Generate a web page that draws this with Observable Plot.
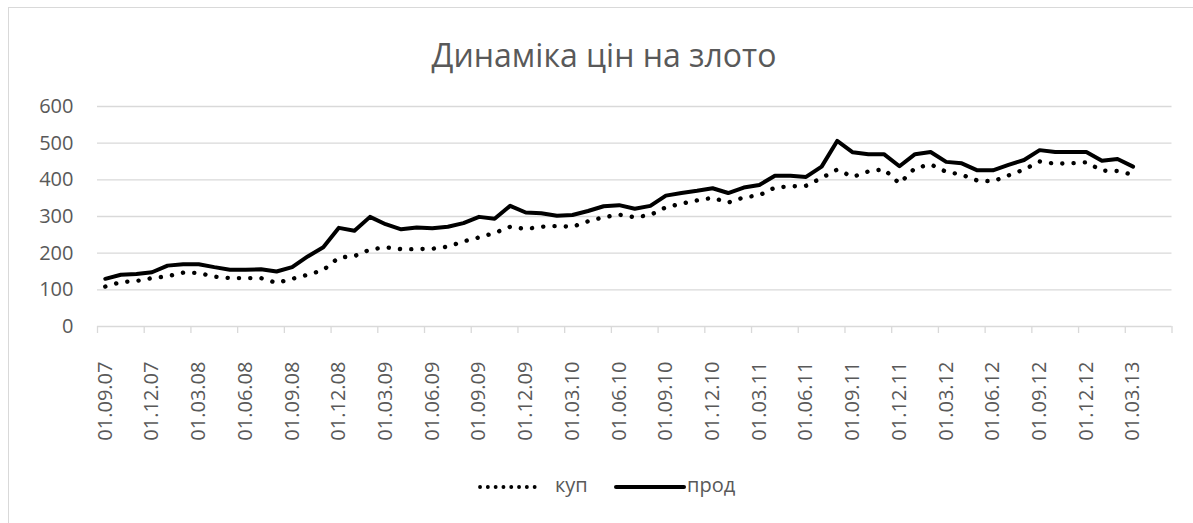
<!DOCTYPE html>
<html>
<head>
<meta charset="utf-8">
<script src="https://cdn.jsdelivr.net/npm/d3@7"></script>
<script src="https://cdn.jsdelivr.net/npm/@observablehq/plot@0.6"></script>
<style>
  html, body { margin: 0; padding: 0; background: #fff; }
  #wrap { position: relative; width: 1193px; height: 523px; overflow: hidden; font-family: "Open Sans", sans-serif; color: #595959; }
  #frame { position: absolute; left: 8px; top: 7px; width: 1200px; height: 530px; border: 1.3px solid #d9d9d9; box-sizing: border-box; }
  #title { position: absolute; left: 8px; top: 33px; width: 1192px; text-align: center; font-size: 32px; line-height: 44px; color: #595959; }
  #chart { position: absolute; left: 0; top: 88px; }
  .lg { position: absolute; font-size: 20px; line-height: 26px; color: #595959; }
  .lgs { position: absolute; }
</style>
</head>
<body>
<div id="wrap">
  <div id="frame"></div>
  <div id="title">Динаміка цін на злото</div>
  <div id="chart"></div>
  <svg class="lgs" style="left:474px;top:479px" width="74" height="16"><line x1="6" y1="8" x2="68" y2="8" stroke="#000" stroke-width="3.8" stroke-linecap="round" stroke-dasharray="0.1 7.7"/></svg>
  <div class="lg" style="left:555px;top:472px">куп</div>
  <svg class="lgs" style="left:612px;top:479px" width="76" height="16"><line x1="4" y1="8" x2="72" y2="8" stroke="#000" stroke-width="4" stroke-linecap="round"/></svg>
  <div class="lg" style="left:687px;top:472px">прод</div>
</div>
<script>
const months = [
  "01.09.07","01.10.07","01.11.07","01.12.07",
  "01.01.08","01.02.08","01.03.08","01.04.08","01.05.08","01.06.08","01.07.08","01.08.08","01.09.08","01.10.08","01.11.08","01.12.08",
  "01.01.09","01.02.09","01.03.09","01.04.09","01.05.09","01.06.09","01.07.09","01.08.09","01.09.09","01.10.09","01.11.09","01.12.09",
  "01.01.10","01.02.10","01.03.10","01.04.10","01.05.10","01.06.10","01.07.10","01.08.10","01.09.10","01.10.10","01.11.10","01.12.10",
  "01.01.11","01.02.11","01.03.11","01.04.11","01.05.11","01.06.11","01.07.11","01.08.11","01.09.11","01.10.11","01.11.11","01.12.11",
  "01.01.12","01.02.12","01.03.12","01.04.12","01.05.12","01.06.12","01.07.12","01.08.12","01.09.12","01.10.12","01.11.12","01.12.12",
  "01.01.13","01.02.13","01.03.13"
];
const kup = [109,121,124,132,137,147,146,136,132,132,
             132,119,130,141,154,188,192,210,216,211,
             211,212,218,232,243,255,272,266,272,274,
             272,287,298,305,298,304,325,335,344,351,
             338,352,358,379,382,384,405,428,408,423,
             429,390,432,442,422,414,398,396,412,428,
             450,444,445,448,425,424,414];
const prod = [130,141,143,148,166,170,170,162,155,155,
              156,150,162,191,216,269,261,299,279,265,
              270,268,272,282,299,294,329,311,309,302,
              304,315,328,331,321,329,357,364,370,377,
              364,379,386,411,411,408,436,506,475,470,
              470,437,470,476,449,445,426,426,441,454,
              481,476,476,476,452,457,436];
const tickLabels = ["01.09.07","01.12.07","01.03.08","01.06.08","01.09.08","01.12.08","01.03.09","01.06.09","01.09.09","01.12.09","01.03.10","01.06.10","01.09.10","01.12.10","01.03.11","01.06.11","01.09.11","01.12.11","01.03.12","01.06.12","01.09.12","01.12.12","01.03.13"];
const yTicks = [0,100,200,300,400,500,600];
const slots = 69; // category slots on the axis (last two empty)

const data = months.map((m, i) => ({i, m, kup: kup[i], prod: prod[i]}));
const labelIdx = tickLabels.map(t => months.indexOf(t));
const bounds = labelIdx.map(i => i - 0.5).concat([slots - 0.5]);

const chart = Plot.plot({
  width: 1193,
  height: 360,
  marginLeft: 97,
  marginRight: 21.5,
  marginTop: 18,
  marginBottom: 122,
  x: {domain: [-0.5, slots - 0.5], axis: null},
  y: {domain: [0, 600], axis: null},
  style: {fontFamily: "'Open Sans', sans-serif", color: "#595959", background: "transparent", overflow: "visible"},
  marks: [
    Plot.ruleY(yTicks, {stroke: "#d9d9d9", strokeWidth: 1.3}),
    Plot.axisY({ticks: yTicks, tickSize: 0, tickPadding: 24, fontSize: 20, fill: "#595959", label: null}),
    Plot.axisX({ticks: bounds, tickSize: 7, tickFormat: () => "", stroke: "#d9d9d9", strokeWidth: 1.3, label: null}),
    Plot.axisX({ticks: labelIdx, tickSize: 0, tickPadding: 35, tickRotate: -90, tickFormat: i => months[i], fontSize: 20, fill: "#595959", label: null}),
    Plot.lineY(data, {x: "i", y: "kup", stroke: "#000", strokeWidth: 4.4, strokeDasharray: "0.1 11.2", strokeLinecap: "round", strokeLinejoin: "round"}),
    Plot.lineY(data, {x: "i", y: "prod", stroke: "#000", strokeWidth: 4, strokeLinejoin: "round", strokeLinecap: "round"})
  ]
});
document.getElementById("chart").appendChild(chart);
</script>
</body>
</html>
